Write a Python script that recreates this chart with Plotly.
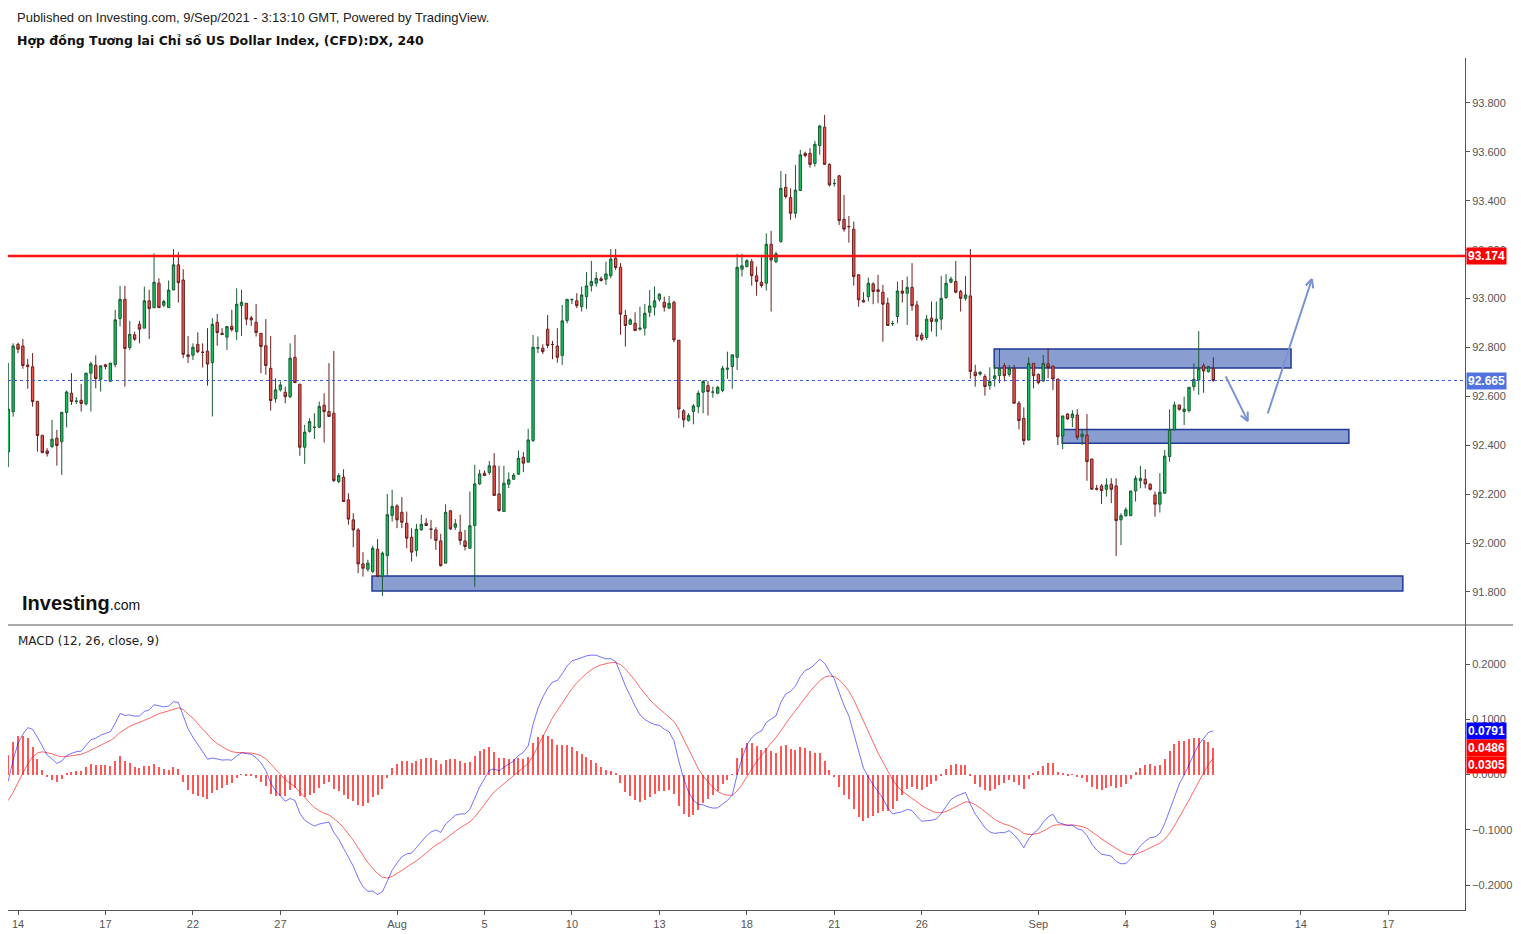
import math
import plotly.graph_objects as go

# ---------------- data (4h candles, DX CFD) ----------------
opens = [92.373, 92.537, 92.813, 92.806, 92.728, 92.721, 92.580, 92.441, 92.377, 92.395,
         92.429, 92.415, 92.534, 92.613, 92.579, 92.584, 92.569, 92.695, 92.727, 92.670,
         92.729, 92.662, 92.730, 92.918, 92.997, 92.800, 92.852, 92.895, 92.879, 92.991,
         92.963, 93.063, 92.973, 92.963, 93.035, 93.138, 93.076, 92.770, 92.768, 92.813,
         92.781, 92.785, 92.738, 92.903, 92.858, 92.842, 92.887, 92.865, 92.971, 92.981,
         92.921, 92.903, 92.858, 92.807, 92.715, 92.590, 92.627, 92.617, 92.599, 92.760,
         92.650, 92.392, 92.457, 92.473, 92.474, 92.564, 92.538, 92.531, 92.252, 92.270,
         92.177, 92.095, 92.054, 91.915, 91.893, 91.884, 91.975, 91.863, 91.949, 92.113,
         92.152, 92.126, 92.081, 92.024, 91.970, 92.054, 92.081, 92.058, 92.054, 92.009,
         91.918, 92.132, 92.065, 92.045, 92.009, 91.979, 92.072, 92.242, 92.286, 92.289,
         92.316, 92.201, 92.129, 92.241, 92.261, 92.282, 92.351, 92.331, 92.420, 92.797,
         92.797, 92.875, 92.813, 92.806, 92.767, 92.910, 92.995, 92.991, 92.967, 93.008,
         93.053, 93.063, 93.081, 93.079, 93.094, 93.165, 93.128, 92.931, 92.895, 92.899,
         92.875, 92.879, 92.944, 92.965, 92.997, 92.985, 92.961, 92.985, 92.830, 92.541,
         92.501, 92.538, 92.558, 92.617, 92.644, 92.617, 92.613, 92.624, 92.711, 92.722,
         92.760, 93.120, 93.131, 93.151, 93.093, 93.067, 93.063, 93.222, 93.151, 93.233,
         93.455, 93.413, 93.349, 93.442, 93.594, 93.594, 93.553, 93.626, 93.701, 93.549,
         93.470, 93.502, 93.324, 93.295, 93.284, 93.097, 92.993, 93.008, 93.060, 93.036,
         93.026, 92.981, 92.897, 92.927, 93.031, 93.022, 93.046, 92.974, 92.851, 92.841,
         92.920, 92.906, 92.916, 93.004, 93.067, 93.070, 93.029, 93.001, 93.011, 92.699,
         92.691, 92.681, 92.644, 92.672, 92.685, 92.725, 92.690, 92.715, 92.572, 92.510,
         92.422, 92.735, 92.690, 92.663, 92.733, 92.724, 92.671, 92.438, 92.528, 92.513,
         92.524, 92.435, 92.442, 92.344, 92.224, 92.234, 92.220, 92.241, 92.234, 92.095,
         92.112, 92.112, 92.213, 92.255, 92.261, 92.241, 92.197, 92.159, 92.204, 92.354,
         92.463, 92.565, 92.538, 92.542, 92.640, 92.667, 92.725, 92.701, 92.715]
highs = [92.737, 92.817, 92.820, 92.835, 92.753, 92.777, 92.580, 92.441, 92.388, 92.504,
         92.463, 92.535, 92.624, 92.695, 92.597, 92.651, 92.695, 92.742, 92.768, 92.725,
         92.733, 92.736, 92.954, 93.052, 93.052, 92.909, 92.865, 92.909, 93.049, 93.036,
         93.185, 93.083, 92.995, 93.074, 93.203, 93.190, 93.120, 92.847, 92.817, 92.862,
         92.817, 92.879, 92.920, 92.937, 92.879, 92.888, 92.954, 93.042, 93.036, 92.981,
         92.929, 92.978, 92.858, 92.916, 92.847, 92.674, 92.661, 92.640, 92.817, 92.852,
         92.650, 92.484, 92.511, 92.531, 92.579, 92.613, 92.736, 92.786, 92.286, 92.302,
         92.204, 92.122, 92.061, 91.963, 91.932, 91.989, 92.016, 91.966, 92.201, 92.218,
         92.159, 92.188, 92.129, 92.061, 92.079, 92.116, 92.102, 92.095, 92.065, 92.038,
         92.159, 92.136, 92.098, 92.116, 92.054, 92.211, 92.320, 92.300, 92.297, 92.336,
         92.368, 92.316, 92.316, 92.289, 92.286, 92.379, 92.372, 92.467, 92.851, 92.845,
         92.813, 92.933, 92.827, 92.879, 92.974, 92.997, 93.001, 93.022, 93.049, 93.108,
         93.154, 93.108, 93.090, 93.151, 93.203, 93.203, 93.145, 92.954, 92.920, 92.944,
         92.967, 92.978, 93.035, 93.049, 93.022, 93.008, 93.011, 92.991, 92.830, 92.548,
         92.531, 92.569, 92.624, 92.667, 92.663, 92.640, 92.643, 92.725, 92.783, 92.770,
         93.183, 93.183, 93.162, 93.162, 93.131, 93.179, 93.267, 93.277, 93.192, 93.522,
         93.510, 93.451, 93.547, 93.608, 93.601, 93.615, 93.645, 93.710, 93.751, 93.553,
         93.489, 93.506, 93.424, 93.338, 93.315, 93.101, 93.026, 93.086, 93.067, 93.097,
         93.056, 93.004, 92.909, 93.070, 93.076, 93.090, 93.145, 92.991, 92.861, 92.933,
         92.988, 92.988, 93.093, 93.100, 93.090, 93.154, 93.036, 93.093, 93.203, 92.729,
         92.704, 92.691, 92.719, 92.729, 92.797, 92.736, 92.728, 92.728, 92.581, 92.555,
         92.760, 92.735, 92.694, 92.769, 92.797, 92.724, 92.671, 92.520, 92.531, 92.544,
         92.547, 92.465, 92.528, 92.344, 92.238, 92.242, 92.265, 92.265, 92.265, 92.122,
         92.146, 92.213, 92.276, 92.316, 92.302, 92.244, 92.211, 92.286, 92.381, 92.547,
         92.579, 92.565, 92.599, 92.637, 92.735, 92.867, 92.735, 92.724, 92.760]
lows = [92.311, 92.517, 92.777, 92.713, 92.631, 92.558, 92.374, 92.368, 92.354, 92.388,
        92.317, 92.279, 92.473, 92.565, 92.569, 92.538, 92.563, 92.538, 92.633, 92.620,
        92.711, 92.659, 92.719, 92.886, 92.640, 92.790, 92.827, 92.817, 92.879, 92.835,
        92.961, 92.963, 92.965, 92.963, 93.035, 92.984, 92.756, 92.736, 92.749, 92.777,
        92.718, 92.644, 92.518, 92.807, 92.852, 92.790, 92.865, 92.831, 92.847, 92.892,
        92.888, 92.845, 92.695, 92.688, 92.542, 92.575, 92.620, 92.572, 92.593, 92.654,
        92.357, 92.324, 92.452, 92.426, 92.470, 92.411, 92.518, 92.249, 92.245, 92.170,
        92.075, 91.983, 91.877, 91.863, 91.884, 91.877, 91.863, 91.784, 91.866, 92.088,
        92.061, 92.061, 91.979, 91.925, 91.945, 92.051, 92.071, 92.017, 91.972, 91.904,
        91.918, 92.054, 92.054, 91.993, 91.970, 91.977, 91.822, 92.238, 92.275, 92.279,
        92.195, 92.129, 92.129, 92.225, 92.259, 92.279, 92.290, 92.331, 92.413, 92.777,
        92.774, 92.797, 92.752, 92.738, 92.729, 92.899, 92.978, 92.961, 92.947, 92.958,
        93.029, 93.049, 93.070, 93.056, 93.083, 93.117, 92.852, 92.804, 92.892, 92.869,
        92.869, 92.849, 92.924, 92.931, 92.988, 92.947, 92.958, 92.822, 92.511, 92.473,
        92.497, 92.486, 92.531, 92.531, 92.522, 92.595, 92.609, 92.617, 92.672, 92.631,
        92.708, 93.090, 93.127, 93.053, 93.012, 93.045, 93.033, 92.947, 93.145, 93.229,
        93.410, 93.322, 93.329, 93.442, 93.578, 93.536, 93.540, 93.588, 93.549, 93.458,
        93.458, 93.301, 93.274, 93.229, 93.053, 92.967, 92.985, 92.988, 92.977, 92.981,
        92.824, 92.890, 92.888, 92.899, 92.984, 92.892, 92.950, 92.827, 92.827, 92.831,
        92.865, 92.845, 92.872, 92.999, 93.063, 93.022, 92.947, 92.992, 92.672, 92.640,
        92.685, 92.603, 92.627, 92.640, 92.654, 92.661, 92.681, 92.572, 92.465, 92.401,
        92.419, 92.633, 92.649, 92.660, 92.674, 92.626, 92.401, 92.384, 92.504, 92.474,
        92.422, 92.401, 92.255, 92.220, 92.215, 92.160, 92.190, 92.163, 91.947, 91.992,
        92.108, 92.112, 92.170, 92.224, 92.224, 92.215, 92.108, 92.125, 92.204, 92.333,
        92.460, 92.542, 92.483, 92.534, 92.623, 92.606, 92.615, 92.698, 92.660]
closes = [92.548, 92.806, 92.793, 92.726, 92.722, 92.579, 92.440, 92.370, 92.366, 92.425,
          92.399, 92.535, 92.618, 92.579, 92.581, 92.571, 92.695, 92.733, 92.673, 92.725,
          92.722, 92.736, 92.913, 92.997, 92.796, 92.854, 92.834, 92.875, 92.991, 92.959,
          93.067, 92.963, 92.988, 93.035, 93.138, 93.065, 92.772, 92.763, 92.801, 92.783,
          92.780, 92.732, 92.895, 92.861, 92.853, 92.886, 92.873, 92.977, 92.985, 92.916,
          92.913, 92.861, 92.804, 92.726, 92.583, 92.627, 92.647, 92.599, 92.756, 92.657,
          92.392, 92.454, 92.497, 92.474, 92.559, 92.538, 92.518, 92.256, 92.276, 92.170,
          92.098, 92.054, 91.915, 91.897, 91.918, 91.979, 91.863, 91.959, 92.116, 92.150,
          92.095, 92.085, 92.020, 91.963, 92.057, 92.077, 92.072, 92.056, 92.011, 91.908,
          92.126, 92.058, 92.079, 92.011, 91.986, 92.071, 92.242, 92.283, 92.276, 92.316,
          92.195, 92.133, 92.245, 92.259, 92.278, 92.347, 92.327, 92.422, 92.801, 92.799,
          92.783, 92.808, 92.812, 92.760, 92.909, 92.997, 92.996, 92.971, 93.015, 93.052,
          93.070, 93.083, 93.074, 93.101, 93.162, 93.127, 92.936, 92.890, 92.913, 92.869,
          92.879, 92.940, 92.970, 92.991, 93.018, 92.965, 92.981, 92.831, 92.548, 92.504,
          92.522, 92.561, 92.613, 92.661, 92.620, 92.618, 92.637, 92.715, 92.715, 92.770,
          93.128, 93.134, 93.155, 93.094, 93.070, 93.053, 93.222, 93.158, 93.183, 93.451,
          93.417, 93.349, 93.444, 93.588, 93.585, 93.549, 93.631, 93.706, 93.549, 93.465,
          93.471, 93.319, 93.284, 93.294, 93.090, 92.995, 92.986, 93.063, 93.029, 93.029,
          92.977, 92.890, 92.898, 93.031, 93.022, 93.046, 92.971, 92.845, 92.834, 92.916,
          92.906, 92.916, 93.001, 93.063, 93.080, 93.026, 93.001, 93.015, 92.702, 92.685,
          92.698, 92.640, 92.661, 92.684, 92.715, 92.685, 92.715, 92.572, 92.501, 92.419,
          92.735, 92.685, 92.656, 92.735, 92.718, 92.671, 92.435, 92.520, 92.508, 92.528,
          92.433, 92.446, 92.333, 92.220, 92.220, 92.215, 92.238, 92.220, 92.092, 92.112,
          92.136, 92.213, 92.265, 92.265, 92.242, 92.220, 92.159, 92.208, 92.356, 92.465,
          92.565, 92.547, 92.548, 92.637, 92.670, 92.715, 92.704, 92.722, 92.665]

tick_bars = [2, 20, 38, 56, 80, 98, 116, 134, 152, 170, 188, 212, 230, 248, 266, 284]
tick_labels = ["14", "17", "22", "27", "Aug", "5", "10", "13", "18", "21", "26",
               "Sep", "4", "9", "14", "17"]
price_ticks = [91.8, 92.0, 92.2, 92.4, 92.6, 92.8, 93.0, 93.2, 93.4, 93.6, 93.8]
macd_ticks = [-0.2, -0.1, 0.0, 0.1, 0.2]

resistance_level = 93.174
last_price = 92.665
last_price_text = "92.665"
resistance_text = "93.174"
macd_last_text, signal_last_text, hist_last_text = "0.0791", "0.0486", "0.0305"
macd_last_val, signal_last_val, hist_last_val = 0.0791, 0.0486, 0.0305

# drawn zones: (start bar, end bar, top price, bottom price)
zones = [
    (74.85, 287.0, 91.865, 91.804),
    (202.9, 264.0, 92.794, 92.716),
    (216.9, 275.9, 92.465, 92.408),
]
# drawn arrows: (from bar, from price, to bar, to price)
arrows = [
    (250.4, 92.688, 255.1, 92.499),
    (259.1, 92.524, 268.3, 93.080),
]

# MACD settings and indicator state at the first visible bar
fast_len, slow_len, signal_len = 12, 26, 9
ema_fast_start, ema_slow_start, signal_start = 92.330, 92.342, -0.047

# ---------------- MACD ----------------
bars = list(range(len(closes)))
af, aslow, asig = 2 / (fast_len + 1), 2 / (slow_len + 1), 2 / (signal_len + 1)
ef, es, sg = ema_fast_start, ema_slow_start, signal_start
macd, signal, hist = [], [], []
for i, c in enumerate(closes):
    if i > 0:
        ef = ef + af * (c - ef)
        es = es + aslow * (c - es)
        sg = sg + asig * ((ef - es) - sg)
    m = ef - es
    macd.append(m)
    signal.append(sg)
    hist.append(m - sg)

# ---------------- layout geometry ----------------
# page has an 8px body margin, so the figure starts at page (8, 8)
PAGE_OFF = 8
W, H = 1521 - PAGE_OFF, 934 - PAGE_OFF
PLOT_LEFT_PG, PLOT_RIGHT_PG, PLOT_TOP_PG, PLOT_BOT_PG = 8, 1465, 58, 910
L = PLOT_LEFT_PG - PAGE_OFF
R = W - (PLOT_RIGHT_PG - PAGE_OFF)
T = PLOT_TOP_PG - PAGE_OFF
B = H - (PLOT_BOT_PG - PAGE_OFF)
PW, PH = PLOT_RIGHT_PG - PLOT_LEFT_PG, PLOT_BOT_PG - PLOT_TOP_PG
split_pg = 625
split = (PLOT_BOT_PG - split_pg) / PH

x_range = [-0.06, 299.8]
y_range = [91.665, 93.984]
y2_range = [-0.2452, 0.2706]


def px_x(px):
    return (px - PLOT_LEFT_PG) / PW


def px_y(py):
    return (PLOT_BOT_PG - py) / PH


fig = go.Figure()

fig.add_trace(go.Candlestick(
    x=bars, open=opens, high=highs, low=lows, close=closes,
    xaxis="x2", yaxis="y",
    increasing=dict(fillcolor="#12c25a", line=dict(color="#1a5c34", width=1)),
    decreasing=dict(fillcolor="#f0544c", line=dict(color="#6a1f1f", width=1)),
    whiskerwidth=0, showlegend=False, hoverinfo="skip",
))

fig.add_trace(go.Bar(
    x=bars, y=hist, xaxis="x", yaxis="y2", width=0.22,
    marker=dict(color="#ff5555", line=dict(width=0)), showlegend=False,
    hoverinfo="skip",
))
fig.add_trace(go.Scatter(
    x=bars, y=signal, xaxis="x", yaxis="y2", mode="lines",
    line=dict(color="rgba(255,0,0,0.6)", width=1), showlegend=False,
    hoverinfo="skip",
))
fig.add_trace(go.Scatter(
    x=bars, y=macd, xaxis="x", yaxis="y2", mode="lines",
    line=dict(color="rgba(0,0,255,0.55)", width=1), showlegend=False,
    hoverinfo="skip",
))

shapes = []
for (b0, b1, top, bot) in zones:
    shapes.append(dict(type="rect", xref="x2", yref="y", x0=b0, x1=b1, y0=bot, y1=top,
                       fillcolor="#8a9dd1", line=dict(color="#1f3a96", width=1.5),
                       layer="below"))
shapes.append(dict(type="line", xref="paper", yref="y", x0=0, x1=1,
                   y0=resistance_level, y1=resistance_level,
                   line=dict(color="#ff1010", width=2.5)))
shapes.append(dict(type="line", xref="paper", yref="y", x0=0, x1=1,
                   y0=last_price, y1=last_price,
                   line=dict(color="#3b5bd6", width=1, dash="dot")))
shapes.append(dict(type="line", xref="paper", yref="paper", x0=px_x(8), x1=px_x(1513),
                   y0=split, y1=split, line=dict(color="#555555", width=1)))

# pixel scale of the main pane (for the open arrow heads)
sx = PW / (x_range[1] - x_range[0])
sy = (split_pg - PLOT_TOP_PG) / (y_range[1] - y_range[0])

arrow_color = "#7a92d4"
annotations = []
for (b0, p0, b1, p1) in arrows:
    annotations.append(dict(x=b1, y=p1, ax=b0, ay=p0, xref="x2", yref="y",
                            axref="x2", ayref="y", text="", showarrow=True,
                            arrowhead=0, arrowwidth=2, standoff=0,
                            arrowcolor=arrow_color))
    # open chevron head: two short wings from the tip
    dxp = (b1 - b0) * sx
    dyp = -(p1 - p0) * sy
    ln = math.hypot(dxp, dyp)
    ux, uy = -dxp / ln, -dyp / ln
    for ang in (0.45, -0.45):
        wx = (ux * math.cos(ang) - uy * math.sin(ang)) * 11
        wy = (ux * math.sin(ang) + uy * math.cos(ang)) * 11
        annotations.append(dict(x=b1, y=p1, xref="x2", yref="y", ax=wx, ay=wy,
                                text="", showarrow=True, arrowhead=0, arrowwidth=2,
                                standoff=0, startstandoff=0, arrowcolor=arrow_color))

annotations += [
    dict(x=px_x(15), y=px_y(17), xref="paper", yref="paper", xanchor="left",
         yanchor="middle", showarrow=False,
         text="Published on Investing.com, 9/Sep/2021 - 3:13:10 GMT, Powered by TradingView.",
         font=dict(family="Liberation Sans, Arial", size=13, color="#222222")),
    dict(x=px_x(15), y=px_y(40), xref="paper", yref="paper", xanchor="left",
         yanchor="middle", showarrow=False,
         text="<b>Hợp đồng Tương lai Chỉ số US Dollar Index, (CFD):DX, 240</b>",
         font=dict(family="DejaVu Sans", size=12.5, color="#111111")),
    dict(x=px_x(16), y=px_y(641), xref="paper", yref="paper", xanchor="left",
         yanchor="middle", showarrow=False, text="MACD (12, 26, close, 9)",
         font=dict(family="DejaVu Sans", size=12, color="#222222")),
    dict(x=px_x(20), y=px_y(603), xref="paper", yref="paper", xanchor="left",
         yanchor="middle", showarrow=False,
         text="<b>Investing</b><span style='font-size:14px'>.com</span>",
         font=dict(family="Liberation Sans, Arial", size=20, color="#111111")),
]

box_font = dict(family="Liberation Sans, Arial", size=12, color="white")
annotations += [
    dict(x=1, y=resistance_level, xref="paper", yref="y", xanchor="left",
         yanchor="middle", xshift=1, showarrow=False, text="<b>" + resistance_text + "</b>",
         bgcolor="#ff0000", borderpad=1, font=box_font),
    dict(x=1, y=last_price, xref="paper", yref="y", xanchor="left",
         yanchor="middle", xshift=1, showarrow=False, text="<b>" + last_price_text + "</b>",
         bgcolor="#5073e0", borderpad=1, font=box_font),
    dict(x=1, y=macd_last_val, xref="paper", yref="y2", xanchor="left",
         yanchor="middle", xshift=1, showarrow=False, text="<b>" + macd_last_text + "</b>",
         bgcolor="#0000ff", borderpad=1, font=box_font),
    dict(x=1, y=signal_last_val, xref="paper", yref="y2", xanchor="left",
         yanchor="middle", xshift=1, showarrow=False, text="<b>" + signal_last_text + "</b>",
         bgcolor="#ff0000", borderpad=1, font=box_font),
    dict(x=1, y=hist_last_val, xref="paper", yref="y2", xanchor="left",
         yanchor="middle", xshift=1, yshift=-7, showarrow=False,
         text="<b>" + hist_last_text + "</b>",
         bgcolor="#ff0000", borderpad=1, font=box_font),
]

tick_font = dict(family="Liberation Sans, Arial", size=11, color="#555555")

fig.update_layout(
    width=W, height=H,
    margin=dict(l=L, r=R, t=T, b=B),
    paper_bgcolor="white", plot_bgcolor="white",
    hovermode=False, showlegend=False, bargap=0,
    xaxis=dict(domain=[0, 1], anchor="y2", range=x_range, tickmode="array",
               tickvals=tick_bars, ticktext=tick_labels, showline=True,
               linecolor="#555555", linewidth=1, ticks="outside", ticklen=4,
               tickcolor="#555555", tickfont=tick_font, showgrid=False,
               zeroline=False, rangeslider=dict(visible=False)),
    xaxis2=dict(domain=[0, 1], anchor="y", range=x_range, matches="x",
                showticklabels=False, showline=False, showgrid=False,
                zeroline=False, rangeslider=dict(visible=False), ticks=""),
    yaxis=dict(domain=[split, 1], anchor="x2", side="right",
               range=y_range, tickmode="array", tickvals=price_ticks,
               tickformat=".3f", showline=True, linecolor="#555555", linewidth=1,
               ticks="outside", ticklen=4, tickcolor="#555555", tickfont=tick_font,
               showgrid=False, zeroline=False),
    yaxis2=dict(domain=[0, split], anchor="x", side="right",
                range=y2_range, tickmode="array", tickvals=macd_ticks,
                tickformat=".4f", showline=True, linecolor="#555555", linewidth=1,
                ticks="outside", ticklen=4, tickcolor="#555555", tickfont=tick_font,
                showgrid=False, zeroline=False),
    shapes=shapes,
    annotations=annotations,
)

fig.write_html("out.html")
